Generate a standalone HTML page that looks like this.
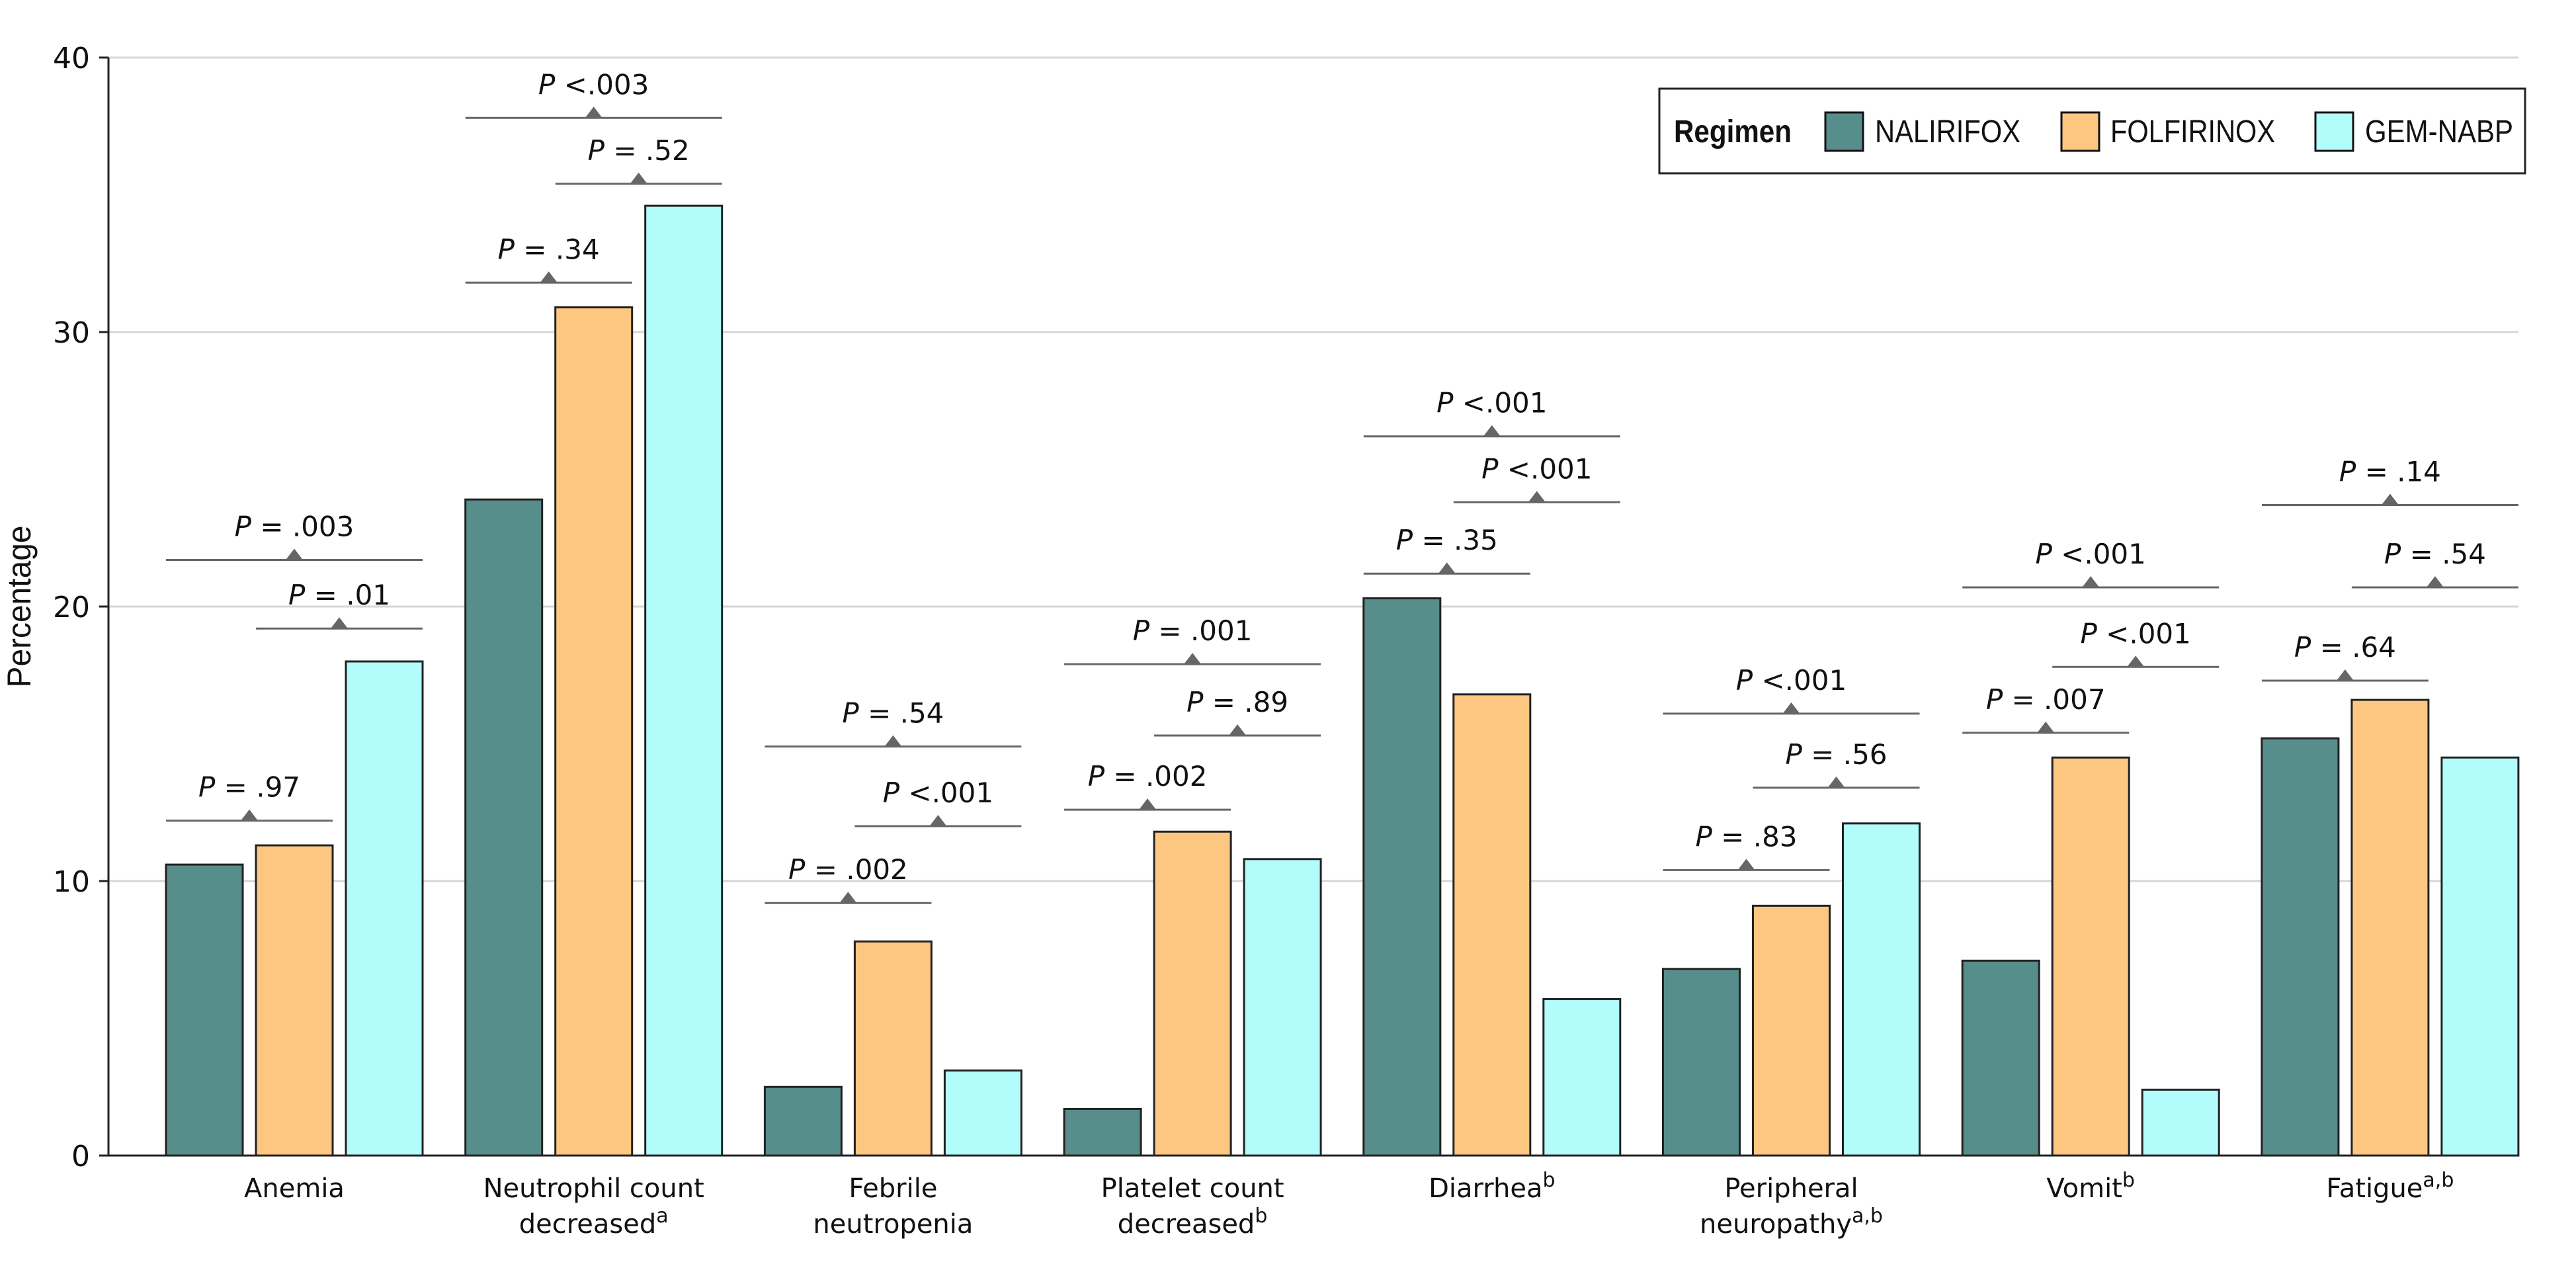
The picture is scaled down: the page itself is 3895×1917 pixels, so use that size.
<!DOCTYPE html>
<html><head><meta charset="utf-8"><style>
html,body{margin:0;padding:0;background:#fff;}
svg{display:block;}
text{font-family:"DejaVu Sans","Liberation Sans",sans-serif;fill:#111;}
</style></head><body>
<svg id="chart" width="3895" height="1917" viewBox="0 0 3895 1917" xmlns="http://www.w3.org/2000/svg">
<g id="grid"></g>
<g id="bars"></g>
<g id="ann"></g>
<g id="axes"></g>
<text transform="translate(46,917) rotate(-90)" text-anchor="middle" font-size="50" textLength="245" lengthAdjust="spacingAndGlyphs" style="font-family:'Liberation Sans',sans-serif">Percentage</text>
<g>
<rect x="2509" y="134" width="1309" height="128" fill="#fff" stroke="#222" stroke-width="3"/>
<text x="2531" y="215" font-size="48" font-weight="bold" textLength="178" lengthAdjust="spacingAndGlyphs" style="font-family:'Liberation Sans',sans-serif">Regimen</text>
<rect x="2760" y="170" width="57" height="58" fill="#578d8b" stroke="#111" stroke-width="3"/>
<text x="2835" y="215" font-size="48" textLength="220" lengthAdjust="spacingAndGlyphs" style="font-family:'Liberation Sans',sans-serif">NALIRIFOX</text>
<rect x="3117" y="170" width="57" height="58" fill="#fdc782" stroke="#111" stroke-width="3"/>
<text x="3191" y="215" font-size="48" textLength="249" lengthAdjust="spacingAndGlyphs" style="font-family:'Liberation Sans',sans-serif">FOLFIRINOX</text>
<rect x="3501" y="170" width="57" height="58" fill="#b2fdfc" stroke="#111" stroke-width="3"/>
<text x="3576" y="215" font-size="48" textLength="224" lengthAdjust="spacingAndGlyphs" style="font-family:'Liberation Sans',sans-serif">GEM-NABP</text>
</g>
</svg>
<script>
const categories=[["Anemia",""],["Neutrophil count","decreased|a"],["Febrile","neutropenia"],["Platelet count","decreased|b"],["Diarrhea|b",""],["Peripheral","neuropathy|a,b"],["Vomit|b",""],["Fatigue|a,b",""]];
const nalirifox=[10.6,23.9,2.5,1.7,20.3,6.8,7.1,15.2];
const folfirinox=[11.3,30.9,7.8,11.8,16.8,9.1,14.5,16.6];
const gemNabp=[18.0,34.6,3.1,10.8,5.7,12.1,2.4,14.5];
const yTicks=[0,10,20,30,40];
// p-value annotations: [pair line y, long line y, orange-cyan line y]
const pairY=[12.2,31.8,9.2,12.6,21.2,10.4,15.4,17.3];
const longY=[21.7,37.8,14.9,17.9,26.2,16.1,20.7,23.7];
const ocY=[19.2,35.4,12.0,15.3,23.8,13.4,17.8,20.7];
const pairP=["= .97","= .34","= .002","= .002","= .35","= .83","= .007","= .64"];
const longP=["= .003","<.003","= .54","= .001","<.001","<.001","<.001","= .14"];
const ocP=["= .01","= .52","<.001","= .89","<.001","= .56","<.001","= .54"];

const NS="http://www.w3.org/2000/svg";
const y0=1747,yTop=87,xAxis=164,xRight=3808;
function y(v){return y0-(v/40)*(y0-yTop);}
const groupStart=251,pitch=452.7,barW=116,step=136;
function gx(i){return groupStart+i*pitch;}
function bx(i,j){return gx(i)+j*step;}
function mk(tag,attrs,parent){const e=document.createElementNS(NS,tag);for(const k in attrs)e.setAttribute(k,attrs[k]);parent.appendChild(e);return e;}
const grid=document.getElementById('grid'),bars=document.getElementById('bars'),ann=document.getElementById('ann'),axes=document.getElementById('axes');
yTicks.forEach(t=>{
  if(t>0){const l=mk('line',{x1:xAxis,x2:xRight,y1:y(t),y2:y(t),stroke:'#d6d6d6','stroke-width':3},grid);
  
  }
  const tk=mk('line',{x1:xAxis-14,x2:xAxis,y1:y(t),y2:y(t),stroke:'#222','stroke-width':3},axes);
  
  
  const tx=mk('text',{x:xAxis-28,y:y(t)+16,'text-anchor':'end','font-size':44},axes);
  tx.textContent=t;
  
  
});
const series=[nalirifox,folfirinox,gemNabp],cols=['#578d8b','#fdc782','#b2fdfc'],sn=['nalirifox','folfirinox','gem-nabp'];
categories.forEach((c,i)=>{
  series.forEach((s,j)=>{
    const r=mk('rect',{x:bx(i,j),y:y(s[i]),width:barW,height:y0-y(s[i]),fill:cols[j],stroke:'#222','stroke-width':3},bars);
    
    
  });
  const cx=gx(i)+step+barW/2;
  c.forEach((line,k)=>{
    if(!line)return;
    const parts=line.split('|');
    const t=mk('text',{x:cx,y:1810+k*54,'text-anchor':'middle','font-size':40},axes);
    
    
    t.appendChild(document.createTextNode(parts[0]));
    if(parts[1]){const sp=document.createElementNS(NS,'tspan');sp.setAttribute('dy','-16');sp.setAttribute('font-size','30');sp.textContent=parts[1];t.appendChild(sp);}
  });
  const specs=[[pairY[i],bx(i,0),bx(i,1)+barW,pairP[i],'pair'],[longY[i],bx(i,0),bx(i,2)+barW,longP[i],'long'],[ocY[i],bx(i,1),bx(i,2)+barW,ocP[i],'oc']];
  specs.forEach(([v,x1,x2,p,nm])=>{
    const yy=y(v),mx=(x1+x2)/2;
    const l=mk('line',{x1:x1,x2:x2,y1:yy,y2:yy,stroke:'#666','stroke-width':3},ann);
    
    
    const tr=mk('polygon',{points:(mx-13)+','+yy+' '+(mx+13)+','+yy+' '+mx+','+(yy-17),fill:'#666'},ann);
    
    
    const t=mk('text',{x:mx,y:yy-36,'text-anchor':'middle','font-size':42},ann);
    
    
    const it=document.createElementNS(NS,'tspan');it.setAttribute('font-style','italic');it.textContent='P ';t.appendChild(it);
    t.appendChild(document.createTextNode(p));
  });
});
const ya=mk('line',{x1:xAxis,x2:xAxis,y1:yTop,y2:y0,stroke:'#222','stroke-width':3},axes);


const xa=mk('line',{x1:xAxis-14,x2:xRight,y1:y0,y2:y0,stroke:'#222','stroke-width':3},axes);


</script>
</body></html>
